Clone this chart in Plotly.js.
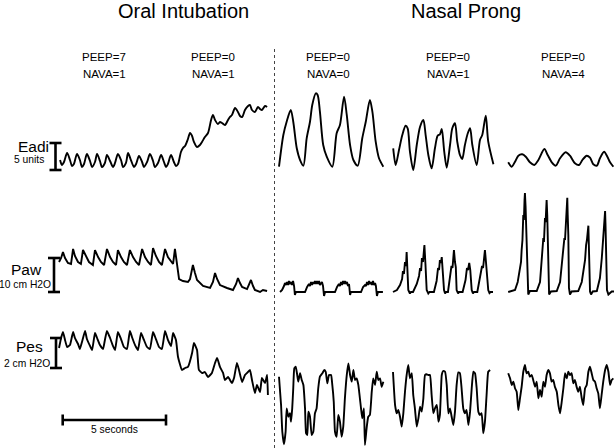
<!DOCTYPE html>
<html>
<head>
<meta charset="utf-8">
<script src="https://cdn.plot.ly/plotly-3.0.1.min.js"></script>
<style>html,body{margin:0;padding:0;background:#fff;}#chart{width:614px;height:448px;}</style>
</head>
<body>
<div id="chart"></div>
<script>
// ---------------- DATA (time in s from start of each recording) ----------------
const groupTitles = ["Oral Intubation", "Nasal Prong"];
const peepLabels = ["PEEP=7", "PEEP=0", "PEEP=0", "PEEP=0", "PEEP=0"];
const navaLabels = ["NAVA=1", "NAVA=1", "NAVA=0", "NAVA=1", "NAVA=4"];
const signalNames = ["Eadi", "Paw", "Pes"];
const scaleLabels = ["5 units", "10 cm H2O", "2 cm H2O"];
const scaleValues = [5, 10, 2];      // size of the vertical scale bars
const timeScaleSeconds = 5;
const timeScaleLabel = "5 seconds";

// Oral intubation recording (PEEP=7 then PEEP=0)
const oralEadiT = [0.10,0.19,0.29,0.44,0.58,0.68,0.77,0.92,1.06,1.16,1.26,1.40,1.55,1.65,1.79,1.89,2.03,2.13,2.27,2.37,2.52,2.66,2.76,2.90,3.05,3.15,3.29,3.39,3.53,3.68,3.78,3.92,4.07,4.16,4.31,4.45,4.60,4.69,4.84,4.99,5.13,5.23,5.32,5.47,5.61,5.71,5.81,5.95,6.05,6.15,6.29,6.39,6.49,6.58,6.73,6.87,6.97,7.11,7.26,7.41,7.50,7.60,7.74,7.84,7.94,8.08,8.23,8.32,8.42,8.57,8.71,8.81,8.91,9.05,9.20,9.29,9.39,9.53,9.68,9.78,9.87,10.02,10.12];
const oralEadiV = [1.85,0.93,1.48,3.15,1.85,0.74,1.11,2.96,1.85,0.56,1.11,2.96,1.67,0.56,1.48,2.96,1.67,0.56,1.30,2.78,1.67,0.56,1.30,2.96,1.85,0.56,1.30,3.15,1.85,0.56,1.11,2.59,1.48,0.56,1.48,2.96,1.67,0.56,1.30,2.78,1.48,0.56,1.11,2.78,1.48,0.74,1.11,3.33,4.07,4.44,5.74,6.85,6.30,5.19,4.26,4.63,5.19,6.11,6.85,9.26,10.19,9.26,8.52,8.89,8.70,8.33,9.26,9.81,10.19,11.48,10.74,10.00,9.81,11.11,11.85,12.04,11.11,10.74,11.67,11.30,11.11,11.85,11.67];

const oralPawT = [0.05,0.15,0.24,0.34,0.48,0.63,0.73,0.82,0.97,1.11,1.21,1.36,1.50,1.69,1.79,1.94,2.08,2.23,2.37,2.52,2.66,2.81,2.90,3.05,3.19,3.34,3.48,3.63,3.78,3.92,4.07,4.21,4.36,4.50,4.60,4.74,4.89,5.03,5.18,5.32,5.47,5.57,5.66,5.76,5.86,6.05,6.29,6.39,6.53,6.63,6.73,7.02,7.36,7.50,7.60,7.70,7.84,8.18,8.47,8.62,8.71,8.81,8.91,9.15,9.24,9.34,9.44,9.53,9.78,9.92,10.12];
const oralPawV = [8.82,10.0,11.76,10.0,8.53,8.24,12.65,10.59,8.82,8.24,12.35,10.29,8.82,7.94,12.35,10.29,8.82,7.94,12.65,10.29,8.82,7.94,12.35,10.29,8.82,7.94,12.35,10.29,8.82,7.94,12.65,10.29,8.82,7.94,12.94,10.59,8.82,7.94,12.65,10.29,8.82,8.24,12.65,7.94,3.82,3.24,2.94,3.82,7.94,5.59,3.53,1.76,1.18,2.94,5.59,3.82,2.06,1.18,0.59,2.35,4.12,2.65,1.47,0.88,2.06,3.53,1.76,0.59,0.0,0.59,0.29];

const oralPesT = [0.05,0.15,0.24,0.34,0.44,0.58,0.73,0.82,0.97,1.06,1.16,1.31,1.40,1.55,1.65,1.79,1.89,2.03,2.18,2.27,2.37,2.52,2.66,2.76,2.90,3.05,3.19,3.34,3.48,3.58,3.73,3.87,4.02,4.16,4.31,4.45,4.60,4.74,4.89,5.03,5.18,5.32,5.47,5.57,5.71,5.81,6.00,6.15,6.29,6.49,6.58,6.73,6.82,6.97,7.11,7.26,7.45,7.60,7.70,7.84,7.99,8.08,8.23,8.42,8.52,8.66,8.76,8.91,9.05,9.15,9.29,9.39,9.53,9.63,9.78,9.87,10.02,10.12,10.16];
const oralPesV = [1.33,2.0,2.4,1.87,1.4,1.53,2.4,2.0,1.6,1.27,1.73,2.47,1.93,1.47,1.2,2.33,2.0,1.53,1.27,1.87,2.47,2.0,1.47,1.2,2.4,1.93,1.4,1.27,2.47,2.07,1.53,1.2,2.33,1.87,1.4,1.27,2.4,1.93,1.4,1.27,2.47,1.87,1.47,2.33,1.87,0.73,-0.13,0.0,0.07,1.0,1.67,1.2,-0.13,-0.33,-0.27,-0.6,-0.33,0.33,0.67,0.07,-0.33,-0.8,-0.6,-1.0,-0.67,0.33,-0.13,-0.93,-0.47,-0.33,-0.13,-0.8,-1.67,-1.13,-1.6,-0.67,-1.0,-0.47,-1.8];

// Nasal prong, NAVA=0
const nava0EadiT = [0,0.21,0.37,0.57,0.69,0.86,1.02,1.18,1.34,1.50,1.61,1.78,1.87,1.98,2.14,2.31,2.58,2.79,2.95,3.15,3.28,3.44,3.60,3.81,4.03,4.20,4.40,4.52,4.68,4.84,5.05];
const nava0EadiV = [0.61,6.48,8.94,11.11,8.94,4.02,1.85,0.80,5.87,8.94,12.04,14.20,13.89,10.80,4.63,2.46,0.61,6.80,8.33,13.57,10.19,4.63,1.85,0.80,5.87,8.94,12.96,10.80,5.24,2.17,0.61];
const nava0PawT = [0.05,0.15,0.24,0.29,0.34,0.39,0.44,0.48,0.53,0.58,0.63,0.68,0.73,0.77,0.82,1.26,1.36,1.45,1.50,1.55,1.60,1.65,1.69,1.74,1.79,1.84,1.89,1.94,1.98,2.08,2.13,2.18,2.23,2.71,2.81,2.90,2.95,3.00,3.05,3.10,3.15,3.19,3.24,3.29,3.34,3.39,3.44,3.48,3.97,4.07,4.16,4.21,4.26,4.31,4.36,4.40,4.45,4.50,4.55,4.60,4.65,4.69,4.74,4.79,5.03];
const nava0PawV = [0,0.59,1.76,2.65,2.06,2.94,2.06,3.24,2.35,2.94,2.06,3.24,1.76,-0.88,0,0,1.47,2.35,1.76,2.94,2.06,2.94,2.35,3.24,2.35,3.24,2.35,3.24,2.06,2.94,1.76,-1.18,0,0,1.47,2.35,1.76,2.94,2.06,3.24,2.35,3.24,2.35,2.94,1.76,2.35,-0.88,0,0,1.47,2.06,1.76,2.94,2.06,3.24,2.35,2.94,2.06,3.24,2.06,2.65,1.76,-1.18,0,0];
const nava0PesT = [0,0.10,0.16,0.24,0.32,0.37,0.45,0.53,0.58,0.64,0.69,0.74,0.81,0.87,0.93,1.02,1.10,1.18,1.26,1.31,1.37,1.42,1.50,1.58,1.66,1.74,1.82,1.90,1.98,2.10,2.19,2.26,2.34,2.42,2.52,2.58,2.65,2.71,2.79,2.87,2.95,3.03,3.11,3.19,3.28,3.36,3.44,3.52,3.60,3.68,3.76,3.84,3.97,4.03,4.11,4.16,4.24,4.32,4.40,4.49,4.56,4.65,4.73,4.81,4.89,4.97,5.05];
const nava0PesV = [-0.58,-2.47,-4.25,-5.09,-4.25,-2.69,-3.25,-3.02,-3.58,-2.69,-1.35,-0.02,0.09,-0.35,-0.91,-0.35,-0.80,-1.13,-2.69,-4.35,-4.47,-2.91,-3.25,-4.47,-4.25,-3.02,-2.69,-1.35,-0.58,-0.35,-0.13,-0.25,-1.02,-0.47,-0.47,-1.13,-2.25,-4.25,-4.58,-3.13,-3.58,-4.58,-3.91,-2.02,-0.47,0.31,-0.47,-0.91,-0.13,-0.80,-0.69,-1.13,-2.69,-3.35,-2.69,-5.13,-4.02,-3.25,-3.13,-1.58,-0.69,-1.13,-0.25,-0.80,-0.69,-1.25,-0.91];

// Nasal prong, NAVA=1
const nava1EadiT = [0.01,0.13,0.29,0.45,0.61,0.71,0.82,0.98,1.15,1.31,1.47,1.58,1.71,1.87,2.03,2.16,2.27,2.36,2.48,2.60,2.76,2.87,3.00,3.11,3.24,3.35,3.48,3.62,3.73,3.84,4.05,4.21,4.32,4.49,4.61,4.86];
const nava1EadiV = [4.02,0.93,3.70,6.48,8.20,7.72,3.39,0,4.63,8.02,9.26,6.48,2.78,0.31,4.02,6.35,6.61,7.59,3.39,0.43,4.63,7.72,8.65,5.24,2.78,2.04,4.63,6.80,7.72,4.63,0.93,5.56,6.48,10.06,5.24,1.06];
const nava1PawT = [0,0.19,0.34,0.44,0.48,0.53,0.58,0.63,0.66,0.70,0.74,0.82,0.87,0.97,1.15,1.26,1.31,1.36,1.40,1.45,1.52,1.57,1.63,1.71,1.77,1.98,2.11,2.18,2.23,2.27,2.32,2.36,2.40,2.47,2.52,2.57,2.66,2.76,2.83,2.88,2.92,2.95,3.00,3.04,3.08,3.15,3.19,3.37,3.51,3.58,3.63,3.69,3.74,3.81,3.87,3.92,4.08,4.24,4.31,4.36,4.40,4.45,4.50,4.54,4.61,4.67,4.72,4.84];
const nava1PawV = [0,0.59,2.06,3.82,6.18,5.29,8.82,7.65,11.76,7.06,0.59,-0.44,0,0,2.35,4.71,7.06,6.18,10.0,8.82,13.82,8.24,0.59,-0.44,0,0,3.24,7.06,6.47,9.41,8.53,10.29,7.06,0.59,-0.44,0,0,4.12,7.65,7.06,10.59,12.35,8.82,7.35,0.59,-0.44,0,0,3.53,7.06,6.47,8.53,6.47,0.59,-0.44,0,0,5.0,7.65,7.06,10.0,12.35,8.82,6.47,0.59,-0.29,0,0];
const nava1PesT = [0,0.10,0.18,0.26,0.34,0.42,0.50,0.58,0.66,0.74,0.82,0.91,0.98,1.06,1.15,1.23,1.31,1.39,1.47,1.55,1.63,1.71,1.79,1.87,1.95,2.03,2.12,2.20,2.27,2.36,2.43,2.52,2.60,2.68,2.76,2.84,2.92,3.00,3.08,3.16,3.24,3.32,3.40,3.48,3.56,3.65,3.73,3.81,3.89,3.97,4.05,4.13,4.21,4.29,4.37,4.45,4.53,4.61,4.70];
const nava1PesV = [-0.27,-2.47,-3.02,-2.80,-3.25,-3.91,-3.02,-1.58,-0.47,0.20,-0.69,-0.35,-1.80,-2.69,-3.91,-3.35,-2.58,-2.91,-2.02,-0.47,-0.42,-0.47,-0.47,-1.80,-3.02,-2.69,-2.47,-3.58,-3.13,-0.47,-0.20,-0.25,-1.13,-3.02,-2.69,-3.25,-3.80,-2.91,-1.13,-0.29,-0.35,-1.35,-2.69,-3.02,-2.80,-3.80,-2.91,-1.35,-0.25,-0.35,-1.35,-2.91,-3.13,-3.02,-4.35,-3.58,-1.80,-0.25,-0.13];

// Nasal prong, NAVA=4
const nava4EadiT = [0.01,0.18,0.34,0.50,0.69,0.86,1.06,1.27,1.47,1.76,1.92,2.12,2.31,2.52,2.79,3.00,3.24,3.44,3.60,3.81,3.97,4.13,4.30,4.45,4.65,4.81,4.94,5.10];
const nava4EadiV = [1.43,0.61,1.54,2.65,2.91,2.46,1.43,0.93,1.85,3.89,2.78,1.43,0.80,2.17,3.28,2.65,1.24,0.93,1.85,2.65,2.28,1.06,0.80,2.17,3.39,2.46,1.43,0.61];
const nava4PawT = [0.01,0.34,0.47,0.58,0.63,0.66,0.70,0.74,0.77,0.80,0.82,0.85,0.87,0.90,0.95,0.98,1.06,1.39,1.55,1.63,1.67,1.71,1.74,1.79,1.82,1.87,1.90,1.92,1.95,1.99,2.08,2.36,2.52,2.63,2.68,2.73,2.76,2.81,2.83,2.87,2.89,2.92,2.95,3.00,3.08,3.40,3.57,3.70,3.73,3.78,3.82,3.89,3.91,3.92,3.97,4.02,4.10,4.30,4.45,4.54,4.57,4.61,4.65,4.67,4.70,4.72,4.74,4.79,4.86,5.02,5.13];
const nava4PawV = [0,0.59,2.94,7.06,8.82,12.35,15.29,22.65,21.18,27.06,29.12,25.29,20.59,11.76,1.18,-0.74,0.29,0.29,2.94,8.82,12.35,15.88,14.71,21.76,20.59,27.06,22.65,16.76,1.18,-0.74,0.15,0.29,2.94,8.82,12.94,15.88,15.29,22.65,21.76,27.74,22.65,16.76,1.18,-0.74,0.15,0.29,2.94,7.94,9.41,13.82,15.29,19.50,15.29,11.76,0.15,-0.74,0.15,0.29,4.12,10.0,12.35,16.76,18.24,21.76,23.82,19.71,11.76,0.59,-0.74,0.15,0.15];
const nava4PesT = [0.01,0.10,0.18,0.26,0.34,0.42,0.50,0.58,0.66,0.74,0.82,0.90,0.98,1.06,1.15,1.22,1.31,1.39,1.47,1.55,1.63,1.71,1.79,1.87,1.95,2.03,2.11,2.19,2.27,2.36,2.44,2.52,2.60,2.68,2.76,2.84,2.92,3.00,3.08,3.16,3.24,3.32,3.40,3.48,3.57,3.64,3.73,3.81,3.89,3.97,4.05,4.13,4.21,4.29,4.37,4.45,4.53,4.61,4.70,4.78,4.86,4.94,5.02,5.10];
const nava4PesV = [-0.35,-0.69,-1.13,-0.91,-1.35,-1.58,-2.80,-2.02,-1.25,-0.25,0.20,-0.35,-0.25,-0.58,-0.47,-0.80,-1.25,-0.91,-2.02,-1.47,-1.91,-0.91,-1.25,-0.47,-0.13,-0.35,-0.91,-0.80,-1.25,-1.58,-2.47,-3.02,-2.25,-1.35,-0.35,-0.69,-0.25,-0.47,-0.35,-1.02,-0.80,-1.25,-1.58,-1.25,-2.02,-2.47,-1.35,-1.13,-0.25,0.09,-0.35,-0.80,-0.91,-1.35,-1.69,-2.69,-1.80,-0.91,-0.13,0.20,-0.25,-1.13,-0.80,-0.69];

// ---------------- LAYOUT / STYLE ----------------
const W = 614, H = 448;
const pxPerSec = 20.66;
// horizontal start of each recording on the page (seconds on the shared time axis)
const segStart = [58 / pxPerSec, 279 / pxPerSec, 393 / pxPerSec, 508 / pxPerSec];
// vertical scales: zero line pixel and pixels per unit for each signal
const yZeroPx = [170, 292, 368];
const pxPerUnit = [5.4, 3.4, 15];
function yRange(i) { return [-(H - yZeroPx[i]) / pxPerUnit[i], yZeroPx[i] / pxPerUnit[i]]; }

const series = [
  [[oralEadiT, oralEadiV], [oralPawT, oralPawV], [oralPesT, oralPesV]],
  [[nava0EadiT, nava0EadiV], [nava0PawT, nava0PawV], [nava0PesT, nava0PesV]],
  [[nava1EadiT, nava1EadiV], [nava1PawT, nava1PawV], [nava1PesT, nava1PesV]],
  [[nava4EadiT, nava4EadiV], [nava4PawT, nava4PawV], [nava4PesT, nava4PesV]]
];
const yRefs = ['y', 'y2', 'y3'];
const lineShape = [
  { shape: 'spline', smoothing: 0.8 },
  { shape: 'linear' },
  { shape: 'spline', smoothing: 0.4 }
];
const traces = [];
series.forEach((seg, si) => {
  seg.forEach((sig, k) => {
    traces.push({
      type: 'scatter', mode: 'lines',
      x: sig[0].map(t => t + segStart[si]), y: sig[1],
      yaxis: yRefs[k], xaxis: 'x',
      line: Object.assign({ color: '#000', width: 1.9 }, lineShape[k]),
      hoverinfo: 'skip', showlegend: false
    });
  });
});

const font = 'Liberation Sans, Arial, sans-serif';
const px = x => x / W, py = y => 1 - y / H;
const ann = [];
function addText(text, x, y, size, anchor) {
  ann.push({ text: text, xref: 'paper', yref: 'paper', x: px(x), y: py(y), xanchor: anchor || 'center', yanchor: 'middle', showarrow: false, font: { family: font, size: size, color: '#000' } });
}
addText(groupTitles[0], 183, 10.5, 20);
addText(groupTitles[1], 466, 10.5, 20);
const labelX = [104, 213, 328, 448, 563];
labelX.forEach((x, i) => { addText(peepLabels[i], x, 57, 11.5); addText(navaLabels[i], x, 74, 11.5); });
addText(signalNames[0], 51, 146.5, 15.5, 'right');
addText(scaleLabels[0], 46, 159.5, 10.3, 'right');
addText(signalNames[1], 44, 269.5, 15.5, 'right');
addText(scaleLabels[1], 53, 284.5, 10.3, 'right');
addText(signalNames[2], 44.5, 346.5, 15.5, 'right');
addText(scaleLabels[2], 51.5, 363, 10.3, 'right');
addText(timeScaleLabel, 114, 429.5, 10.3);

const shapes = [];
const barW = 2.6;
function vbar(xPx, yref, val) {
  const xc = xPx / pxPerSec, hw = 6 / pxPerSec;
  shapes.push({ type: 'line', xref: 'x', yref: yref, x0: xc, x1: xc, y0: 0, y1: val, line: { color: '#000', width: barW } });
  shapes.push({ type: 'line', xref: 'x', yref: yref, x0: xc - hw, x1: xc + hw, y0: 0, y1: 0, line: { color: '#000', width: barW } });
  shapes.push({ type: 'line', xref: 'x', yref: yref, x0: xc - hw, x1: xc + hw, y0: val, y1: val, line: { color: '#000', width: barW } });
}
vbar(55.5, 'y', scaleValues[0]);
vbar(54, 'y2', scaleValues[1]);
vbar(56, 'y3', scaleValues[2]);
// 5 second time bar (drawn on the Pes axis)
const tb0 = 62.7 / pxPerSec, tbY = -(420 - yZeroPx[2]) / pxPerUnit[2], tick = 5.5 / pxPerUnit[2];
shapes.push({ type: 'line', xref: 'x', yref: 'y3', x0: tb0, x1: tb0 + timeScaleSeconds, y0: tbY, y1: tbY, line: { color: '#000', width: barW } });
shapes.push({ type: 'line', xref: 'x', yref: 'y3', x0: tb0, x1: tb0, y0: tbY - tick, y1: tbY + tick, line: { color: '#000', width: barW } });
shapes.push({ type: 'line', xref: 'x', yref: 'y3', x0: tb0 + timeScaleSeconds, x1: tb0 + timeScaleSeconds, y0: tbY - tick, y1: tbY + tick, line: { color: '#000', width: barW } });
// dotted separator
shapes.push({ type: 'line', xref: 'paper', yref: 'paper', x0: px(274.5), x1: px(274.5), y0: 0, y1: py(46), line: { color: '#444', width: 1, dash: 'dot' } });

const hidden = { visible: false, fixedrange: true, showgrid: false, zeroline: false };
const layout = {
  width: W, height: H,
  margin: { l: 0, r: 0, t: 0, b: 0, pad: 0 },
  paper_bgcolor: '#fff', plot_bgcolor: '#fff',
  showlegend: false,
  xaxis: Object.assign({ range: [0, W / pxPerSec], domain: [0, 1] }, hidden),
  yaxis: Object.assign({ range: yRange(0), domain: [0, 1] }, hidden),
  yaxis2: Object.assign({ range: yRange(1), overlaying: 'y' }, hidden),
  yaxis3: Object.assign({ range: yRange(2), overlaying: 'y' }, hidden),
  annotations: ann,
  shapes: shapes
};
Plotly.newPlot('chart', traces, layout, { staticPlot: true, displayModeBar: false });
</script>
</body>
</html>
